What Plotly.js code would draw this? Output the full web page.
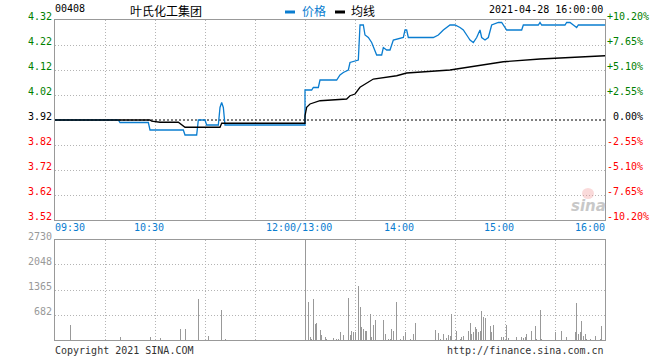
<!DOCTYPE html>
<html>
<head>
<meta charset="utf-8">
<script src="https://cdn.plot.ly/plotly-3.0.1.min.js"></script>
<style>
  html, body { margin: 0; padding: 0; background: #fff; }
  #chart { width: 660px; height: 360px; }
</style>
</head>
<body>
<div id="chart"></div>
<script>
// ---------------- DATA ----------------
const stockCode = "00408";
const stockName = "叶氏化工集团";
const dateText = "2021-04-28 16:00:00";
const closePrice = 3.92;

const priceTimes = ["09:30","10:08","10:09","10:26","10:27","10:47","10:48","10:55","10:56","11:00","11:01","11:08",
  "11:09","11:10","11:11","11:12","12:00","13:00","13:04","13:05","13:08","13:09","13:19","13:21","13:23","13:26",
  "13:27","13:32","13:33","13:35","13:36","13:38","13:40","13:42","13:43","13:46","13:47","13:49","13:51","13:53",
  "13:58","13:59","14:00","14:01","14:02","14:17","14:20","14:23","14:27","14:30","14:33","14:35","14:38","14:39",
  "14:41","14:43","14:45","14:46","14:48","14:50","14:52","14:56","14:58","15:01","15:10","15:11","15:20","15:21",
  "15:22","15:36","15:37","15:39","15:41","15:43","15:44","16:00"];
const priceValues = [3.92,3.92,3.91,3.91,3.88,3.88,3.86,3.86,3.92,3.92,3.90,3.90,
  3.97,3.99,3.97,3.90,3.90,4.04,4.04,4.05,4.05,4.08,4.08,4.10,4.11,4.12,
  4.15,4.16,4.30,4.30,4.26,4.25,4.23,4.20,4.18,4.18,4.21,4.20,4.20,4.24,
  4.25,4.25,4.28,4.28,4.25,4.25,4.26,4.28,4.30,4.30,4.29,4.28,4.25,4.24,
  4.23,4.25,4.28,4.25,4.24,4.25,4.30,4.31,4.31,4.28,4.28,4.30,4.30,4.31,
  4.30,4.30,4.31,4.31,4.30,4.29,4.30,4.30];

const avgTimes = ["09:30","10:27","10:28","10:33","10:44","10:48","11:09","11:10","12:00","13:00","13:01","13:03",
  "13:09","13:25","13:27","13:30","13:33","13:41","13:55","14:01","14:27","14:41","14:59","15:21","15:43","16:00"];
const avgValues = [3.920,3.920,3.915,3.911,3.911,3.891,3.891,3.907,3.907,3.937,3.971,3.984,
  3.997,4.004,4.017,4.024,4.051,4.084,4.097,4.108,4.120,4.134,4.153,4.164,4.173,4.177];

const volTimes = ["09:39","10:09","10:27","10:33","10:45","10:48","10:56","11:02","11:10","11:12",
  "13:00","13:02","13:03","13:04","13:05","13:06","13:07","13:09","13:10","13:12","13:13","13:17","13:19","13:20",
  "13:21","13:23","13:26","13:27","13:28","13:29","13:30","13:32","13:33","13:34","13:35","13:36","13:37","13:39",
  "13:40","13:41","13:42","13:47","13:48","13:50","13:51","13:52","13:53","13:55","13:57","13:59","14:00","14:03",
  "14:05","14:06","14:18","14:20","14:21","14:23","14:25","14:26","14:27","14:28","14:31","14:33","14:34","14:35",
  "14:38","14:39","14:40","14:41","14:42","14:43","14:44","14:45","14:46","14:47","14:48","14:51","14:52","14:53",
  "14:58","14:59","15:01","15:02","15:07","15:10","15:11","15:12","15:13","15:16","15:18","15:19","15:21","15:22",
  "15:30","15:34","15:37","15:42","15:43","15:44","15:45","15:46","15:47","15:48","15:49","15:51","15:54","15:57","15:58"];
const volValues = [400,91,91,64,309,309,1128,118,828,36,
  2730,1047,91,36,1128,446,473,282,146,91,36,64,36,36,
  228,146,1156,146,255,228,228,1483,910,364,309,255,255,719,
  91,419,555,555,173,36,36,309,255,1047,36,118,228,36,
  173,473,282,200,36,173,64,146,118,719,255,36,91,118,
  255,473,173,228,364,309,228,255,801,637,610,391,228,419,
  91,91,419,64,91,91,64,91,173,255,391,36,828,36,
  228,255,91,228,1019,173,228,528,118,173,36,36,118,36,391];

const priceTicks = [3.52,3.62,3.72,3.82,3.92,4.02,4.12,4.22,4.32];
const volTicks = [682,1365,2048,2730];
const volMax = 2730;
const timeLabels = ["09:30","10:30","12:00/13:00","14:00","15:00","16:00"];
const timeLabelAt = ["09:30","10:30","12:00","14:00","15:00","16:00"];

// ---------------- HELPERS ----------------
function toIdx(t) {
  const [h, m] = t.split(":").map(Number);
  let mins = h * 60 + m - (9 * 60 + 30);
  if (h >= 13) mins -= 60;
  return mins;
}
const X0 = 55, X1 = 605, YT = 20, YB = 340;
const px2x = px => (px - X0) / (X1 - X0);
const px2y = py => (YB - py) / (YB - YT);

const BLUE = "#0a7dd0", GREEN = "#008000", RED = "#ff0000", GRAY = "#999999";
const MONO = "DejaVu Sans Mono";
const CJK = "Noto Sans CJK SC";

const totalMins = toIdx("16:00");
const gridX = [];
for (let i = 30; i < totalMins; i += 30) gridX.push(i);

// ---------------- TRACES ----------------
const traces = [
  { // previous close
    x: [0, totalMins], y: [closePrice, closePrice], mode: "lines", type: "scatter",
    line: { color: "#000", width: 1, dash: "2px,2px" }, hoverinfo: "skip", xaxis: "x", yaxis: "y"
  },
  {
    x: priceTimes.map(toIdx), y: priceValues, mode: "lines", type: "scatter", name: "价格",
    line: { color: BLUE, width: 1.3 }, xaxis: "x", yaxis: "y"
  },
  {
    x: avgTimes.map(toIdx), y: avgValues, mode: "lines", type: "scatter", name: "均线",
    line: { color: "#000", width: 1.3 }, xaxis: "x", yaxis: "y"
  },
  {
    x: volTimes.map(toIdx), y: volValues, type: "bar", width: 0.6,
    marker: { color: GRAY, line: { width: 0 } }, xaxis: "x2", yaxis: "y2"
  }
];

// ---------------- ANNOTATIONS ----------------
const ann = [];
const mono = (size, color) => ({ family: MONO, size: size, color: color });

priceTicks.forEach(p => {
  const col = p > closePrice + 1e-9 ? GREEN : (p < closePrice - 1e-9 ? RED : "#000");
  ann.push({ xref: "paper", yref: "y", x: 0, y: p, xanchor: "right", yanchor: "middle",
    xshift: -1.5, yshift: 3.5, text: p.toFixed(2), showarrow: false, font: mono(10, col) });
  const pct = (p - closePrice) / closePrice * 100;
  const sign = pct > 1e-9 ? "+" : (pct < -1e-9 ? "-" : "\u00a0");
  ann.push({ xref: "paper", yref: "y", x: 1, y: p, xanchor: "left", yanchor: "middle",
    xshift: 0, yshift: 3.5, text: sign + Math.abs(pct).toFixed(2) + "%", showarrow: false, font: mono(10, col) });
});
volTicks.forEach(v => {
  ann.push({ xref: "paper", yref: "y2", x: 0, y: v, xanchor: "right", yanchor: "middle",
    xshift: -1.5, yshift: 3.5, text: String(v), showarrow: false, font: mono(10, GRAY) });
});
timeLabels.forEach((lab, i) => {
  const idx = toIdx(timeLabelAt[i]);
  const first = i === 0, last = i === timeLabels.length - 1;
  ann.push({ xref: "x", yref: "paper", x: idx, y: px2y(227.4), yanchor: "middle",
    xanchor: first ? "left" : (last ? "right" : "center"),
    xshift: first ? -2 : (last ? 2 : -6), text: lab, showarrow: false, font: mono(10, BLUE) });
});
// header
ann.push({ xref: "paper", yref: "paper", x: px2x(53), y: px2y(8.7), xanchor: "left", yanchor: "middle",
  text: stockCode, showarrow: false, font: mono(10, "#000") });
ann.push({ xref: "paper", yref: "paper", x: px2x(128), y: px2y(10.3), xanchor: "left", yanchor: "middle",
  text: stockName, showarrow: false, font: { family: CJK, size: 12, color: "#000" } });
ann.push({ xref: "paper", yref: "paper", x: px2x(299.5), y: px2y(10.3), xanchor: "left", yanchor: "middle",
  text: "价格", showarrow: false, font: { family: CJK, size: 12, color: BLUE } });
ann.push({ xref: "paper", yref: "paper", x: px2x(348.5), y: px2y(10.3), xanchor: "left", yanchor: "middle",
  text: "均线", showarrow: false, font: { family: CJK, size: 12, color: "#000" } });
ann.push({ xref: "paper", yref: "paper", x: px2x(486.5), y: px2y(9.2), xanchor: "left", yanchor: "middle",
  text: dateText, showarrow: false, font: mono(10, "#000") });
// footer
ann.push({ xref: "paper", yref: "paper", x: 0, y: px2y(350.5), xanchor: "left", yanchor: "middle", xshift: -2,
  text: "Copyright 2021 SINA.COM", showarrow: false, font: mono(10, "#333") });
ann.push({ xref: "paper", yref: "paper", x: 1, y: px2y(350.5), xanchor: "right", yanchor: "middle", xshift: 1,
  text: "http://finance.sina.com.cn", showarrow: false, font: mono(10, "#333") });
// watermark
ann.push({ xref: "paper", yref: "paper", x: px2x(588), y: px2y(206), xanchor: "center", yanchor: "middle",
  text: "<b><i>sina</i></b>", showarrow: false, font: { family: "DejaVu Sans", size: 15, color: "#c8c8c8" } });

// legend swatches (decoration)
const shapes = [
  { type: "rect", xref: "paper", yref: "paper", x0: px2x(285), x1: px2x(295), y0: px2y(13.5), y1: px2y(10.5),
    fillcolor: BLUE, line: { width: 0 } },
  { type: "rect", xref: "paper", yref: "paper", x0: px2x(335), x1: px2x(345), y0: px2y(13.5), y1: px2y(10.5),
    fillcolor: "#000", line: { width: 0 } },
  { type: "circle", xref: "paper", yref: "paper", x0: px2x(582), x1: px2x(594), y0: px2y(199), y1: px2y(188),
    fillcolor: "rgba(240,150,150,0.35)", line: { width: 0 } }
];

// ---------------- AXES ----------------
const gridStyle = { showgrid: true, gridcolor: "#b4b4b4", gridwidth: 1, griddash: "1px,2px",
  showline: true, linecolor: GRAY, linewidth: 1, mirror: true, zeroline: false,
  showticklabels: false, ticks: "", fixedrange: true };

const layout = {
  width: 660, height: 360,
  margin: { l: 55, r: 55, t: 20, b: 20, pad: 0 },
  paper_bgcolor: "#fff", plot_bgcolor: "#fff",
  showlegend: false, hovermode: false,
  xaxis: Object.assign({}, gridStyle, { domain: [0, 1], range: [0, totalMins], anchor: "y",
    tickmode: "array", tickvals: gridX }),
  yaxis: Object.assign({}, gridStyle, { domain: [px2y(220), 1], range: [priceTicks[0], priceTicks[priceTicks.length - 1]],
    anchor: "x", tickmode: "array", tickvals: priceTicks.filter(p => Math.abs(p - closePrice) > 1e-9) }),
  xaxis2: Object.assign({}, gridStyle, { domain: [0, 1], range: [0, totalMins], anchor: "y2",
    tickmode: "array", tickvals: gridX }),
  yaxis2: Object.assign({}, gridStyle, { domain: [0, px2y(240)], range: [0, volMax], anchor: "x2",
    tickmode: "array", tickvals: volTicks }),
  annotations: ann,
  shapes: shapes,
  bargap: 0
};

Plotly.newPlot("chart", traces, layout, { staticPlot: true, displayModeBar: false });
</script>
</body>
</html>
